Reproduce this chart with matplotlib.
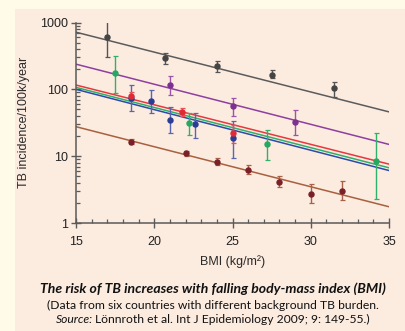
import matplotlib
matplotlib.use("Agg")
import matplotlib.pyplot as plt
from matplotlib.patches import Rectangle
from matplotlib.ticker import MultipleLocator, LogLocator, NullFormatter

CREAM = "#FFFBE8"; PEACH = "#FCEBDF"; AXIS = "#5A5A5A"; INK = "#111111"

# series: BMI, incidence, lower / upper error, fitted line at BMI 15 and 35
GRAY_X = [17, 20.7, 24, 27.5, 31.5]
GRAY_Y = [610, 295, 222, 166, 103]
GRAY_LO = [300, 238, 184, 150, 78]
GRAY_HI = [1080, 355, 266, 192, 130]
GRAY_FIT = [716, 46]

PURPLE_X = [21, 25, 29]
PURPLE_Y = [116, 57, 33]
PURPLE_LO = [82, 40, 21]
PURPLE_HI = [159, 75, 49]
PURPLE_FIT = [238, 15]

RED_X = [18.5, 21.8, 25]
RED_Y = [80, 46, 22.5]
RED_LO = [70, 40, 16]
RED_HI = [92, 52, 29]
RED_FIT = [116, 7.6]

GREEN_X = [17.5, 22.2, 27.2, 34.2]
GREEN_Y = [178, 31, 15.2, 8.5]
GREEN_LO = [88, 21, 8.8, 2.3]
GREEN_HI = [320, 44, 25, 22]
GREEN_FIT = [107, 6.7]

BLUE_X = [18.5, 19.8, 21, 22.6, 25]
BLUE_Y = [75, 68, 35, 30, 19]
BLUE_LO = [47, 45, 22, 19, 9.4]
BLUE_HI = [115, 98, 55, 44, 34]
BLUE_FIT = [100, 6.1]

BROWN_X = [18.5, 22, 24, 26, 28, 30, 32]
BROWN_Y = [16.5, 11, 8.2, 6.2, 4.1, 2.7, 3.0]
BROWN_LO = [15, 10, 7.4, 5.4, 3.4, 2.0, 2.2]
BROWN_HI = [18, 12, 9.3, 7.3, 5.1, 3.8, 4.2]
BROWN_FIT = [27.6, 1.75]

FIT_X = [15, 35]
Y_TICKS = [1, 10, 100, 1000]

# line colour, point colour, errorbar colour
SERIES = [
    (GRAY_X, GRAY_Y, GRAY_LO, GRAY_HI, GRAY_FIT, "#5B5B5B", "#444444", "#555555"),
    (PURPLE_X, PURPLE_Y, PURPLE_LO, PURPLE_HI, PURPLE_FIT, "#8E3FA0", "#7E3090", "#9A55AA"),
    (BLUE_X, BLUE_Y, BLUE_LO, BLUE_HI, BLUE_FIT, "#2E4AA8", "#2A3C96", "#5866B0"),
    (GREEN_X, GREEN_Y, GREEN_LO, GREEN_HI, GREEN_FIT, "#2EB06A", "#27A862", "#30B06A"),
    (RED_X, RED_Y, RED_LO, RED_HI, RED_FIT, "#E8373F", "#E02A35", "#E8505A"),
    (BROWN_X, BROWN_Y, BROWN_LO, BROWN_HI, BROWN_FIT, "#A8603E", "#7A2028", "#A86048"),
]

fig = plt.figure(figsize=(4.06, 3.31), dpi=100)
fig.patch.set_facecolor(CREAM)
fig.patches.append(Rectangle((15 / 406, 0), 1, 1 - 9 / 331, transform=fig.transFigure,
                             facecolor=PEACH, edgecolor="none", zorder=-5))

ax = fig.add_axes([76 / 406, 1 - 223 / 331, 313 / 406, 200.5 / 331])
ax.set_facecolor("none")
ax.set_yscale("log")
ax.set_xlim(15, 35)
ax.set_ylim(1, 1000)

for x, y, lo, hi, fit, lc, pc, ec in SERIES:
    ax.plot(FIT_X, fit, color=lc, linewidth=1.1, zorder=2)
    err = [[v - l for v, l in zip(y, lo)], [h - v for v, h in zip(y, hi)]]
    ax.errorbar(x, y, yerr=err, fmt="o", color=pc, ecolor=ec, markersize=3.6,
                elinewidth=1.0, capsize=1.8, capthick=0.9, zorder=3)

for s in ("top", "right"):
    ax.spines[s].set_visible(False)
for s in ("left", "bottom"):
    ax.spines[s].set_color(AXIS)
    ax.spines[s].set_linewidth(1.1)

ax.xaxis.set_major_locator(MultipleLocator(5))
ax.xaxis.set_minor_locator(MultipleLocator(1))
ax.set_yticks(Y_TICKS)
ax.set_yticklabels([str(t) for t in Y_TICKS])
ax.yaxis.set_minor_locator(LogLocator(base=10, subs=range(2, 10), numticks=10))
ax.yaxis.set_minor_formatter(NullFormatter())

ax.tick_params(which="major", direction="inout", length=7, width=1, color=AXIS,
               labelsize=9, labelcolor="#222222")
ax.tick_params(which="minor", direction="in", length=3, width=0.9, color=AXIS)
ax.tick_params(axis="y", which="major", pad=2)
ax.tick_params(axis="x", which="major", pad=6)
for lab in ax.get_xticklabels() + ax.get_yticklabels():
    lab.set_family("Liberation Sans")

ax.set_ylabel("TB incidence/100k/year", fontsize=9, family="Liberation Sans", color="#2A2A2A")
ax.yaxis.set_label_coords(-0.147, 0.5)
ax.set_xlabel("BMI (kg/m²)", fontsize=9, family="Liberation Sans", color="#2A2A2A")
ax.xaxis.set_label_coords(0.5, -0.16)

cx = 213 / 406
fig.text(cx, 1 - 289 / 331, "The risk of TB increases with falling body-mass index (BMI)",
         ha="center", va="center", fontsize=10.1, family="Lato", weight="bold",
         style="italic", color=INK)
fig.text(cx, 1 - 305 / 331, "(Data from six countries with different background TB burden.",
         ha="center", va="center", fontsize=8.7, family="Lato", color=INK)

# third line: italic "Source:" followed by upright text, centred together
t1 = fig.text(0, 0, "Source:", fontsize=8.7, family="Lato", style="italic", color=INK, va="center")
t2 = fig.text(0, 0, "Lönnroth et al. Int J Epidemiology 2009; 9: 149-55.)",
              fontsize=8.7, family="Lato", color=INK, va="center")
fig.canvas.draw()
r = fig.canvas.get_renderer()
gap = 2.5
w1 = t1.get_window_extent(r).width
w2 = t2.get_window_extent(r).width
W, H = fig.bbox.width, fig.bbox.height
x0 = cx * W - (w1 + gap + w2) / 2
y3 = 1 - 319.5 / 331
t1.set_position((x0 / W, y3))
t2.set_position(((x0 + w1 + gap) / W, y3))

fig.savefig("out.png", dpi=100, facecolor=CREAM)
